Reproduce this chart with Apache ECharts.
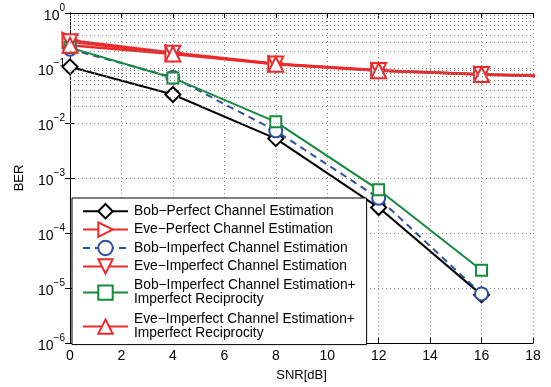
<!DOCTYPE html>
<html>
<head>
<meta charset="utf-8">
<script src="https://cdn.jsdelivr.net/npm/echarts@6/dist/echarts.min.js"></script>
<style>
  html, body { margin: 0; padding: 0; background: #fff; }
  #main { width: 551px; height: 387px; }
</style>
</head>
<body>
<div id="main"></div>
<script>
// SNR points (dB)
var snrBob = [0, 4, 8, 12, 16];
var snrEve = [0, 4, 8, 12, 16, 20];

// BER values
var bobPerfect = [0.105, 0.033, 0.0052, 0.00029, 0.0000075];
var evePerfect = [0.32, 0.19, 0.12, 0.091, 0.077, 0.069];
var bobImperfect = [0.22, 0.068, 0.0072, 0.00043, 0.0000078];
var eveImperfect = [0.30, 0.185, 0.118, 0.09, 0.076, 0.068];
var bobImperfectRecip = [0.235, 0.066, 0.0105, 0.00061, 0.000021];
var eveImperfectRecip = [0.26, 0.18, 0.117, 0.089, 0.076, 0.068];

var seriesNames = [
    'Bob\u2212Perfect Channel Estimation',
    'Eve\u2212Perfect Channel Estimation',
    'Bob\u2212Imperfect Channel Estimation',
    'Eve\u2212Imperfect Channel Estimation',
    'Bob\u2212Imperfect Channel Estimation+\nImperfect Reciprocity',
    'Eve\u2212Imperfect Channel Estimation+\nImperfect Reciprocity'
];

var FONT = '"Liberation Sans", Arial, sans-serif';
var GRID_COLOR = '#8a8a8a';

function pairs(xs, ys) {
    var out = [];
    for (var i = 0; i < ys.length; i++) out.push([xs[i], ys[i]]);
    return out;
}

// minor log grid values 2..9 x 10^d
var minorGrid = [];
for (var d = -6; d < 0; d++) {
    for (var k = 2; k <= 9; k++) minorGrid.push({ yAxis: k * Math.pow(10, d) });
}

function expLabel(v) {
    var e = Math.round(Math.log10(v));
    return '{b|10}{s|' + (e < 0 ? '\u2212' + (-e) : e) + '}';
}

var chart = echarts.init(document.getElementById('main'));

function mk(name, xs, ys, color, symbol, size, rotate, dashed, lw) {
    return {
        name: name,
        type: 'line',
        data: pairs(xs, ys),
        symbol: symbol,
        symbolSize: size,
        symbolRotate: rotate,
        clip: true,
        animation: false,
        lineStyle: { color: color, width: lw, type: dashed ? [7, 5] : 'solid' },
        itemStyle: { color: color, borderColor: color, borderWidth: 2 }
    };
}

var series = [
    mk(seriesNames[0], snrBob, bobPerfect, '#000000', 'emptyDiamond', 15, 0, false, 2),
    mk(seriesNames[1], snrEve, evePerfect, '#ee2a2a', 'emptyTriangle', 15, -90, false, 2.5),
    mk(seriesNames[2], snrBob, bobImperfect, '#2f4fa6', 'emptyCircle', 13, 0, true, 2),
    mk(seriesNames[3], snrEve, eveImperfect, '#ee2a2a', 'emptyTriangle', 15, 180, false, 2.5),
    mk(seriesNames[4], snrBob, bobImperfectRecip, '#138a3c', 'emptyRect', 11, 0, false, 2),
    mk(seriesNames[5], snrEve, eveImperfectRecip, '#ee2a2a', 'emptyTriangle', 15, 0, false, 2.5)
];

series[0].markLine = {
    silent: true,
    symbol: 'none',
    animation: false,
    label: { show: false },
    lineStyle: { color: GRID_COLOR, type: [1, 3], width: 1 },
    data: minorGrid
};
series[0].z = 3;

// legend entries: two-line names get a little extra room
var legendData = seriesNames.map(function (n) {
    var two = n.indexOf('\n') >= 0;
    return { name: n, textStyle: { padding: two ? [2, 0, 2, 1] : [0, 0, 0, 1] } };
});

var option = {
    backgroundColor: '#fff',
    textStyle: { fontFamily: FONT, color: '#000' },
    animation: false,
    grid: { left: 70, right: 18, top: 13, bottom: 39 },
    legend: {
        orient: 'vertical',
        left: 72,
        top: 198,
        width: 294,
        padding: [5, 11, 2, 10],
        itemWidth: 45,
        itemHeight: 18,
        itemGap: 2,
        backgroundColor: '#fff',
        borderColor: '#000',
        borderWidth: 1,
        borderRadius: 0,
        selectedMode: false,
        textStyle: { fontFamily: FONT, fontSize: 13.8, lineHeight: 14, color: '#000' },
        data: legendData
    },
    xAxis: [{
        type: 'value',
        min: 0,
        max: 18,
        interval: 2,
        name: 'SNR[dB]',
        nameLocation: 'middle',
        nameGap: 26,
        nameTextStyle: { fontFamily: FONT, fontSize: 13, color: '#000' },
        axisLine: { lineStyle: { color: '#000', width: 1 } },
        axisTick: { inside: true, length: 5, lineStyle: { color: '#000' } },
        axisLabel: { fontFamily: FONT, fontSize: 14, color: '#000', margin: 6 },
        splitLine: { show: true, lineStyle: { color: GRID_COLOR, type: [1, 3], width: 1 } }
    }, {
        type: 'value',
        position: 'top',
        min: 0,
        max: 18,
        interval: 2,
        axisLine: { show: true, lineStyle: { color: '#000', width: 1 } },
        axisTick: { inside: true, length: 5, lineStyle: { color: '#000' } },
        axisLabel: { show: false },
        splitLine: { show: false }
    }],
    yAxis: [{
        type: 'log',
        logBase: 10,
        min: 1e-6,
        max: 1,
        splitNumber: 6,
        name: 'BER',
        nameLocation: 'middle',
        nameGap: 44,
        nameRotate: 90,
        nameTextStyle: { fontFamily: FONT, fontSize: 13, color: '#000' },
        axisLine: { show: true, lineStyle: { color: '#000', width: 1 } },
        axisTick: { inside: true, length: 5, lineStyle: { color: '#000' } },
        axisLabel: {
            margin: 5,
            formatter: expLabel,
            rich: {
                b: { fontFamily: FONT, fontSize: 14, lineHeight: 20, verticalAlign: 'bottom', color: '#000' },
                s: { fontFamily: FONT, fontSize: 10, lineHeight: 6, verticalAlign: 'top', color: '#000' }
            }
        },
        splitLine: { show: true, lineStyle: { color: GRID_COLOR, type: [1, 3], width: 1 } }
    }, {
        type: 'log',
        logBase: 10,
        min: 1e-6,
        max: 1,
        splitNumber: 6,
        position: 'right',
        axisLine: { show: true, lineStyle: { color: '#000', width: 1 } },
        axisTick: { inside: true, length: 5, lineStyle: { color: '#000' } },
        axisLabel: { show: false },
        splitLine: { show: false }
    }],
    series: series
};

chart.setOption(option);
</script>
</body>
</html>
